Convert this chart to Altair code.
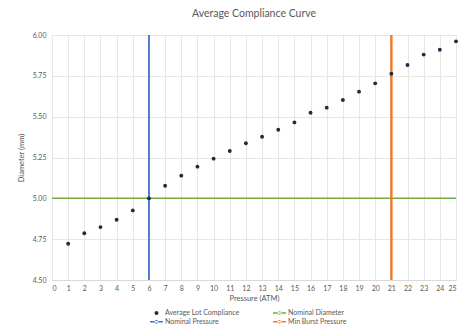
import altair as alt
import pandas as pd

pressure = list(range(1, 26))
diameter = [4.722, 4.786, 4.824, 4.869, 4.926, 5.000, 5.077, 5.139, 5.194, 5.243,
            5.290, 5.337, 5.377, 5.420, 5.465, 5.524, 5.555, 5.602, 5.653, 5.704,
            5.763, 5.816, 5.880, 5.910, 5.961]
nominal_diameter = [5.0]
nominal_pressure = [6]
min_burst_pressure = [21]
# legend order (filled column by column): col 1 = first two, col 2 = last two
series_names = ["Average Lot Compliance", "Nominal Pressure", "Nominal Diameter", "Min Burst Pressure"]
series_colors = ["#1f2a44", "#4472c4", "#70ad47", "#ed7d31"]
x_ticks = list(range(0, 26))
y_ticks = [4.5, 4.75, 5.0, 5.25, 5.5, 5.75, 6.0]

FONT = "Lato"
GREY = "#595959"

pts = pd.DataFrame({"p": pressure, "d": diameter})

line_path = "M-1,-0.11 H1 V0.11 H-1 Z M-0.28,0 A0.28,0.28 0 1,0 0.28,0 A0.28,0.28 0 1,0 -0.28,0 Z"
dot_path = "M-0.3,0 A0.3,0.3 0 1,0 0.3,0 A0.3,0.3 0 1,0 -0.3,0 Z"

x_axis = alt.Axis(values=x_ticks, format="d", grid=True, ticks=False, labelOverlap=False,
                  domainColor="#d9d9d9", gridColor="#e6e6e6",
                  labelColor=GREY, titleColor=GREY, labelFontSize=7,
                  titleFontSize=7.5, titleFontWeight="normal",
                  labelPadding=4, titlePadding=3, labelFont=FONT, titleFont=FONT)
y_axis = alt.Axis(values=y_ticks, format=".2f", grid=True, ticks=False, labelOverlap=False,
                  domain=False, gridColor="#e6e6e6",
                  labelColor=GREY, titleColor=GREY, labelFontSize=7,
                  titleFontSize=7.5, titleFontWeight="normal",
                  labelPadding=6, titlePadding=7, labelFont=FONT, titleFont=FONT)
x_scale = alt.Scale(domain=[0, 25], nice=False)
y_scale = alt.Scale(domain=[4.5, 6.0], nice=False, zero=False)


def xe():
    return alt.X("p:Q", title="Pressure (ATM)", scale=x_scale, axis=x_axis)


def ye():
    return alt.Y("d:Q", title="Diameter (mm)", scale=y_scale, axis=y_axis)


points = alt.Chart(pts).mark_point(filled=True, size=15, opacity=1, color=series_colors[0]).encode(
    x=xe(), y=ye())

hrule = alt.Chart(pd.DataFrame({"d": nominal_diameter})).mark_rule(
    color=series_colors[2], strokeWidth=1.5).encode(y=ye())
vrule1 = alt.Chart(pd.DataFrame({"p": nominal_pressure})).mark_rule(
    color=series_colors[1], strokeWidth=1.8).encode(x=xe())
vrule2 = alt.Chart(pd.DataFrame({"p": min_burst_pressure})).mark_rule(
    color=series_colors[3], strokeWidth=2.5).encode(x=xe())

legend_df = pd.DataFrame({"series": series_names})
legend_layer = alt.Chart(legend_df).mark_point(filled=True, opacity=0).encode(
    color=alt.Color("series:N", sort=series_names,
                    scale=alt.Scale(domain=series_names, range=series_colors),
                    legend=alt.Legend(title=None, orient="none", legendX=98, legendY=274,
                                      columns=2, columnPadding=33, rowPadding=0,
                                      clipHeight=7.5,
                                      symbolOpacity=1, symbolSize=169, symbolStrokeWidth=0,
                                      labelFontSize=7, labelColor=GREY, labelFont=FONT,
                                      labelOffset=2)),
    shape=alt.Shape("series:N", sort=series_names,
                    scale=alt.Scale(domain=series_names,
                                    range=[dot_path, line_path, line_path, line_path]),
                    legend=None),
)

chart = alt.layer(hrule, vrule1, vrule2, points, legend_layer).properties(
    width=404, height=245,
    title=alt.Title("Average Compliance Curve", fontSize=10.5, color=GREY, font=FONT,
                    fontWeight="normal", offset=12),
    autosize=alt.AutoSizeParams(type="none"),
    padding={"left": 52, "top": 35, "right": 18, "bottom": 56},
).configure_view(stroke=None).configure(background="white")

chart.save("out.html", embed_options={"renderer": "svg", "actions": False})
